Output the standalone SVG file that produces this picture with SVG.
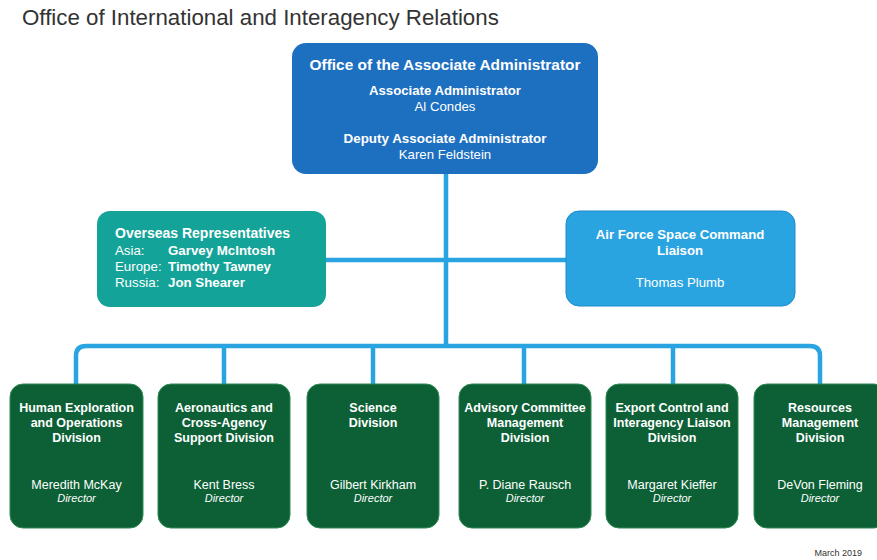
<svg xmlns="http://www.w3.org/2000/svg" width="877" height="560" viewBox="0 0 877 560">
<style>
text{font-family:"Liberation Sans",Arial,sans-serif;fill:#fff}
.t{fill:#333;font-size:22.3px}
.b{font-weight:bold}
.c{text-anchor:middle}
.d{fill:#0d6035;stroke:#2f8a52;stroke-width:1}
.dt{font-size:12.5px;font-weight:bold;text-anchor:middle}
.dn{font-size:12.5px;text-anchor:middle}
.di{font-size:11px;font-style:italic;text-anchor:middle}
.con{fill:none;stroke:#2aa4e1;stroke-width:4.5}
</style>
<rect width="877" height="560" fill="#fff"/>
<text class="t" x="22" y="25">Office of International and Interagency Relations</text>

<g id="connectors">
<line class="con" x1="446" y1="172" x2="446" y2="346"/>
<line class="con" x1="324" y1="260" x2="568" y2="260"/>
<path class="con" d="M76 386 V356 Q76 346 86 346 H810 Q820 346 820 356 V386"/>
<line class="con" x1="224" y1="346" x2="224" y2="386"/>
<line class="con" x1="373" y1="346" x2="373" y2="386"/>
<line class="con" x1="524" y1="346" x2="524" y2="386"/>
<line class="con" x1="673" y1="346" x2="673" y2="386"/>
</g>

<g id="assoc-admin">
<rect x="292" y="43" width="306" height="131" rx="14" fill="#1d6fc0"/>
<text class="c b" x="445" y="70" font-size="15.4">Office of the Associate Administrator</text>
<text class="c b" x="445" y="95" font-size="13.2">Associate Administrator</text>
<text class="c" x="445" y="111" font-size="13.2">Al Condes</text>
<text class="c b" x="445" y="143" font-size="13.4">Deputy Associate Administrator</text>
<text class="c" x="445" y="159" font-size="13.2">Karen Feldstein</text>
</g>

<g id="overseas">
<rect x="97" y="211" width="229" height="96" rx="13" fill="#14a398"/>
<text class="b" x="115" y="238" font-size="14">Overseas Representatives</text>
<text x="115" y="255" font-size="13.3">Asia:</text>
<text class="b" x="168" y="255" font-size="13.3">Garvey McIntosh</text>
<text x="115" y="271" font-size="13.3">Europe:</text>
<text class="b" x="168" y="271" font-size="13.3">Timothy Tawney</text>
<text x="115" y="287" font-size="13.3">Russia:</text>
<text class="b" x="168" y="287" font-size="13.3">Jon Shearer</text>
</g>

<g id="afsc">
<rect x="566" y="211" width="229" height="95" rx="13" fill="#2aa4e1" stroke="#1f8ccc" stroke-width="1"/>
<text class="c b" x="680" y="239" font-size="13.2">Air Force Space Command</text>
<text class="c b" x="680" y="255" font-size="13.2">Liaison</text>
<text class="c" x="680" y="287" font-size="13.2">Thomas Plumb</text>
</g>

<g id="heo">
<rect class="d" x="10" y="384" width="133" height="144" rx="13"/>
<text class="dt" x="76.5" y="412">Human Exploration</text>
<text class="dt" x="76.5" y="427">and Operations</text>
<text class="dt" x="76.5" y="442">Division</text>
<text class="dn" x="76.5" y="489">Meredith McKay</text>
<text class="di" x="76.5" y="502">Director</text>
</g>

<g id="aero">
<rect class="d" x="158" y="384" width="132" height="144" rx="13"/>
<text class="dt" x="224" y="412">Aeronautics and</text>
<text class="dt" x="224" y="427">Cross-Agency</text>
<text class="dt" x="224" y="442">Support Division</text>
<text class="dn" x="224" y="489">Kent Bress</text>
<text class="di" x="224" y="502">Director</text>
</g>

<g id="science">
<rect class="d" x="307" y="384" width="132" height="144" rx="13"/>
<text class="dt" x="373" y="412">Science</text>
<text class="dt" x="373" y="427">Division</text>
<text class="dn" x="373" y="489">Gilbert Kirkham</text>
<text class="di" x="373" y="502">Director</text>
</g>

<g id="advisory">
<rect class="d" x="459" y="384" width="132" height="144" rx="13"/>
<text class="dt" x="525" y="412">Advisory Committee</text>
<text class="dt" x="525" y="427">Management</text>
<text class="dt" x="525" y="442">Division</text>
<text class="dn" x="525" y="489">P. Diane Rausch</text>
<text class="di" x="525" y="502">Director</text>
</g>

<g id="export">
<rect class="d" x="606" y="384" width="132" height="144" rx="13"/>
<text class="dt" x="672" y="412">Export Control and</text>
<text class="dt" x="672" y="427">Interagency Liaison</text>
<text class="dt" x="672" y="442">Division</text>
<text class="dn" x="672" y="489">Margaret Kieffer</text>
<text class="di" x="672" y="502">Director</text>
</g>

<g id="resources">
<rect class="d" x="754" y="384" width="133" height="144" rx="13"/>
<text class="dt" x="820" y="412">Resources</text>
<text class="dt" x="820" y="427">Management</text>
<text class="dt" x="820" y="442">Division</text>
<text class="dn" x="820" y="489">DeVon Fleming</text>
<text class="di" x="820" y="502">Director</text>
</g>

<text x="862" y="556" font-size="9" text-anchor="end" style="fill:#333">March 2019</text>
</svg>
